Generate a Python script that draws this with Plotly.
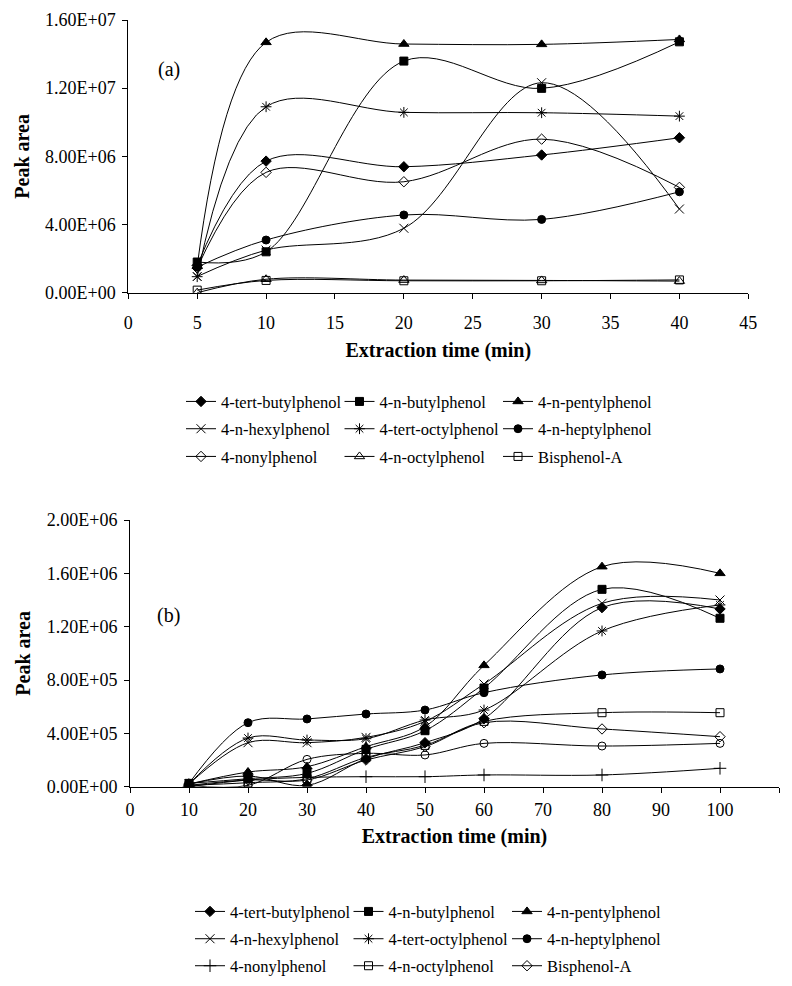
import plotly.graph_objects as go

# ---------------- data: panel (a) ----------------
time_a = [5, 10, 20, 30, 40]
a_tert_butyl = [1.6e6, 7.72e6, 7.39e6, 8.08e6, 9.09e6]
a_n_butyl = [1.8e6, 2.4e6, 13.59e6, 11.99e6, 14.72e6]
a_n_pentyl = [1.55e6, 14.69e6, 14.59e6, 14.57e6, 14.86e6]
a_n_hexyl = [0.95e6, 2.5e6, 3.78e6, 12.32e6, 4.91e6]
a_tert_octyl = [0.94e6, 10.91e6, 10.58e6, 10.56e6, 10.36e6]
a_n_heptyl = [1.5e6, 3.09e6, 4.56e6, 4.30e6, 5.92e6]
a_nonyl = [1.45e6, 7.06e6, 6.51e6, 9.01e6, 6.18e6]
a_n_octyl = [0.0, 0.79e6, 0.74e6, 0.72e6, 0.68e6]
a_bpa = [0.15e6, 0.72e6, 0.70e6, 0.70e6, 0.75e6]

# ---------------- data: panel (b) ----------------
time_b = [10, 20, 30, 40, 50, 60, 80, 100]
b_tert_butyl = [0.02e6, 0.08e6, 0.01e6, 0.21e6, 0.33e6, 0.51e6, 1.343e6, 1.333e6]
b_n_butyl = [0.025e6, 0.06e6, 0.10e6, 0.28e6, 0.42e6, 0.74e6, 1.48e6, 1.263e6]
b_n_pentyl = [0.02e6, 0.11e6, 0.15e6, 0.30e6, 0.45e6, 0.91e6, 1.65e6, 1.60e6]
b_n_hexyl = [0.02e6, 0.33e6, 0.33e6, 0.37e6, 0.49e6, 0.77e6, 1.375e6, 1.40e6]
b_tert_octyl = [0.02e6, 0.365e6, 0.35e6, 0.36e6, 0.50e6, 0.575e6, 1.168e6, 1.363e6]
b_n_heptyl = [0.025e6, 0.48e6, 0.508e6, 0.545e6, 0.575e6, 0.705e6, 0.838e6, 0.883e6]
b_nonyl = [0.0, 0.05e6, 0.07e6, 0.075e6, 0.075e6, 0.088e6, 0.088e6, 0.138e6]
b_n_octyl = [0.01e6, 0.03e6, 0.06e6, 0.22e6, 0.31e6, 0.49e6, 0.555e6, 0.555e6]
b_bpa = [0.01e6, 0.05e6, 0.05e6, 0.20e6, 0.30e6, 0.48e6, 0.433e6, 0.375e6]
b_unlabelled = [0.01e6, 0.01e6, 0.205e6, 0.25e6, 0.238e6, 0.325e6, 0.305e6, 0.325e6]

# ---------------- tick labels ----------------
yticks_a = [0, 4e6, 8e6, 12e6, 16e6]
yticklabels_a = ["0.00E+00", "4.00E+06", "8.00E+06", "1.20E+07", "1.60E+07"]
yticks_b = [0, 4e5, 8e5, 12e5, 16e5, 20e5]
yticklabels_b = ["0.00E+00", "4.00E+05", "8.00E+05", "1.20E+06", "1.60E+06", "2.00E+06"]

FONT = "Times New Roman, Liberation Serif, serif"
W, H = 792, 986

series_a = [
    ("4-tert-butylphenol", a_tert_butyl, "diamond"),
    ("4-n-butylphenol", a_n_butyl, "square"),
    ("4-n-pentylphenol", a_n_pentyl, "triangle-up"),
    ("4-n-hexylphenol", a_n_hexyl, "x-thin-open"),
    ("4-tert-octylphenol", a_tert_octyl, "asterisk-open"),
    ("4-n-heptylphenol", a_n_heptyl, "circle"),
    ("4-nonylphenol", a_nonyl, "diamond-open"),
    ("4-n-octylphenol", a_n_octyl, "triangle-up-open"),
    ("Bisphenol-A", a_bpa, "square-open"),
]
series_b = [
    ("4-tert-butylphenol", b_tert_butyl, "diamond", True),
    ("4-n-butylphenol", b_n_butyl, "square", True),
    ("4-n-pentylphenol", b_n_pentyl, "triangle-up", True),
    ("4-n-hexylphenol", b_n_hexyl, "x-thin-open", True),
    ("4-tert-octylphenol", b_tert_octyl, "asterisk-open", True),
    ("4-n-heptylphenol", b_n_heptyl, "circle", True),
    ("4-nonylphenol", b_nonyl, "cross-thin-open", True),
    ("4-n-octylphenol", b_n_octyl, "square-open", True),
    ("Bisphenol-A", b_bpa, "diamond-open", True),
    ("", b_unlabelled, "circle-open", False),
]


def msize(sym):
    if sym in ("x-thin-open", "asterisk-open", "cross-thin-open"):
        return 9
    if sym.startswith("triangle"):
        return 9
    return 8


def px_x(p):
    return p / W


def px_y(p):
    return 1 - p / H


legend_ids_a = ["legend", "legend2", "legend3"]
legend_ids_b = ["legend4", "legend5", "legend6"]

fig = go.Figure()
for i, (name, vals, sym) in enumerate(series_a):
    fig.add_trace(go.Scatter(
        x=time_a, y=vals, name=name, mode="lines+markers",
        line=dict(color="black", width=1, shape="spline", smoothing=1.0),
        marker=dict(symbol=sym, size=msize(sym), color="black",
                    line=dict(color="black", width=1)),
        xaxis="x", yaxis="y", legend=legend_ids_a[i // 3],
    ))
for i, (name, vals, sym, show) in enumerate(series_b):
    fig.add_trace(go.Scatter(
        x=time_b, y=vals, name=name, mode="lines+markers", showlegend=show,
        line=dict(color="black", width=1, shape="spline", smoothing=1.0),
        marker=dict(symbol=sym, size=msize(sym), color="black",
                    line=dict(color="black", width=1)),
        xaxis="x2", yaxis="y2", legend=legend_ids_b[min(i // 3, 2)],
    ))

axis_common = dict(
    showgrid=False, zeroline=False, showline=True, linecolor="black", linewidth=1,
    ticks="outside", ticklen=5, tickcolor="black", tickwidth=1,
    tickfont=dict(family=FONT, size=18, color="black"), automargin=False,
)
title_font = dict(size=20, family=FONT, color="black")

layout = dict(
    width=W, height=H,
    margin=dict(l=0, r=0, t=0, b=0, autoexpand=False),
    paper_bgcolor="white", plot_bgcolor="white",
    font=dict(family=FONT, color="black"),
    showlegend=True,
    xaxis=dict(domain=[px_x(128.3), px_x(748.3)], range=[0, 45], dtick=5, tick0=0,
               anchor="y", ticklabelstandoff=9,
               title=dict(text="<b>Extraction time (min)</b>", font=title_font, standoff=10),
               **axis_common),
    yaxis=dict(domain=[px_y(292.7), px_y(20)], range=[0, 1.6e7], tickvals=yticks_a,
               ticktext=yticklabels_a, anchor="x", ticklabelstandoff=3,
               title=dict(text="<b>Peak area</b>", font=title_font, standoff=10),
               **axis_common),
    xaxis2=dict(domain=[px_x(130), px_x(779)], range=[0, 110], dtick=10, tick0=0,
                anchor="y2", ticklabelstandoff=2,
                title=dict(text="<b>Extraction time (min)</b>", font=title_font, standoff=9),
                **axis_common),
    yaxis2=dict(domain=[px_y(786.7), px_y(520)], range=[0, 2.0e6], tickvals=yticks_b,
                ticktext=yticklabels_b, anchor="x2", ticklabelstandoff=3,
                title=dict(text="<b>Peak area</b>", font=title_font, standoff=10),
                **axis_common),
    annotations=[
        dict(text="(a)", x=px_x(156), y=px_y(70), xref="paper", yref="paper",
             xanchor="left", yanchor="middle", showarrow=False,
             font=dict(family=FONT, size=20, color="black")),
        dict(text="(b)", x=px_x(155), y=px_y(615), xref="paper", yref="paper",
             xanchor="left", yanchor="middle", showarrow=False,
             font=dict(family=FONT, size=20, color="black")),
    ],
)

legend_rows_a = [401.7, 429.0, 456.7]
legend_rows_b = [911.7, 939.0, 966.0]
for lid, yc in zip(legend_ids_a, legend_rows_a):
    layout[lid] = dict(orientation="h", x=px_x(181), y=px_y(yc), xanchor="left", yanchor="middle",
                       entrywidth=113.5, entrywidthmode="pixels", traceorder="normal",
                       font=dict(family=FONT, size=16.5, color="black"),
                       bgcolor="rgba(0,0,0,0)", borderwidth=0)
for lid, yc in zip(legend_ids_b, legend_rows_b):
    layout[lid] = dict(orientation="h", x=px_x(190), y=px_y(yc), xanchor="left", yanchor="middle",
                       entrywidth=113.5, entrywidthmode="pixels", traceorder="normal",
                       font=dict(family=FONT, size=16.5, color="black"),
                       bgcolor="rgba(0,0,0,0)", borderwidth=0)

fig.update_layout(**layout)

fig.write_html("out.html", config={"displayModeBar": False},
               post_script="document.body.style.margin='0px';")
